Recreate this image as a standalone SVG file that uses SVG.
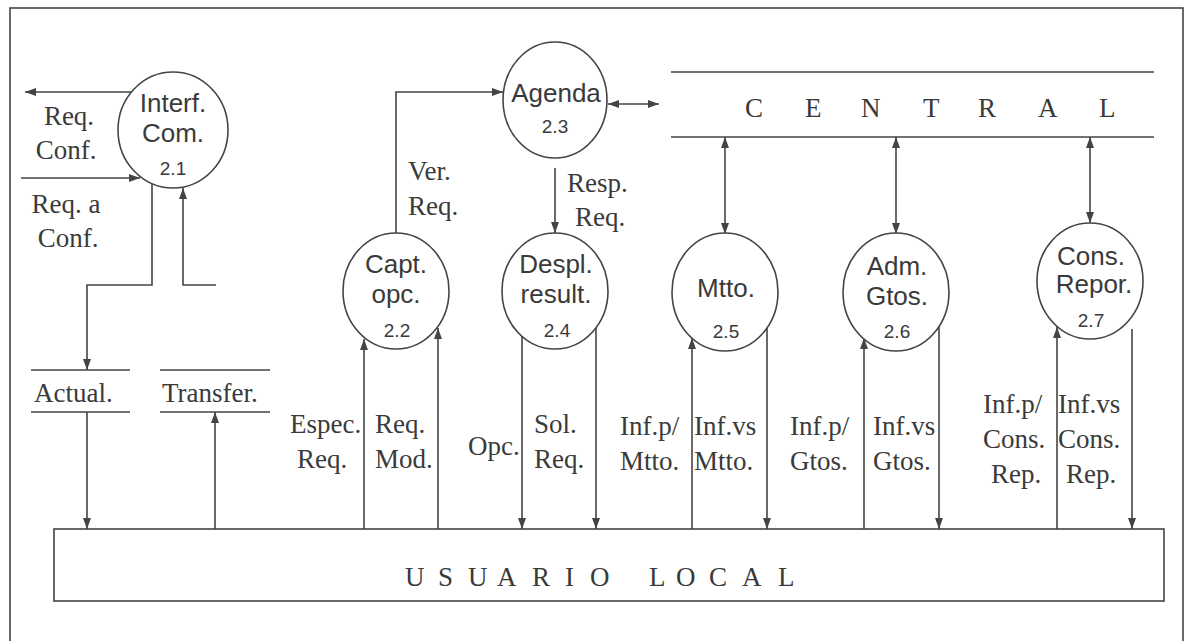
<svg xmlns="http://www.w3.org/2000/svg" width="1187" height="641" viewBox="0 0 1187 641">
<style>
.ln{stroke:#444;stroke-width:1.6;fill:none}
.ar{marker-end:url(#ah)}
.bi{marker-start:url(#ah);marker-end:url(#ah)}
.nd{stroke:#444;stroke-width:1.6;fill:#fff}
.nt{font-family:"Liberation Sans",Arial,sans-serif;font-size:26px;fill:#3a3a3a;text-anchor:middle}
.nn{font-family:"Liberation Sans",Arial,sans-serif;font-size:19px;fill:#3a3a3a;text-anchor:middle}
.lb{font-family:"Liberation Serif","Times New Roman",serif;font-size:27px;fill:#3a3a3a}
.mid{text-anchor:middle}
</style>
<defs>
<marker id="ah" viewBox="0 0 11 8" refX="11" refY="4" markerWidth="11" markerHeight="8" orient="auto-start-reverse" markerUnits="userSpaceOnUse">
<path d="M0,0 L11,4 L0,8 z" fill="#444"/>
</marker>
</defs>
<rect x="0" y="0" width="1187" height="641" fill="#fff"/>
<rect id="frame" x="10" y="8" width="1173" height="660" class="ln" stroke-width="2"/>

<g id="connectors">
<path class="ln ar" d="M131,92 H25"/>
<path class="ln ar" d="M21,178 H140"/>
<path class="ln ar" d="M152,184 V285 H87 V370"/>
<path class="ln ar" d="M216,285 H183 V188"/>
<path class="ln ar" d="M87,412 V529"/>
<path class="ln ar" d="M215,529 V412"/>
<path class="ln ar" d="M396,233 V92 H503"/>
<path class="ln bi" d="M608,104 H659"/>
<path class="ln ar" d="M555,168 V233"/>
<path class="ln ar" d="M364,529 V339"/>
<path class="ln ar" d="M438,529 V328"/>
<path class="ln ar" d="M522,336 V529"/>
<path class="ln ar" d="M596,328 V529"/>
<path class="ln ar" d="M692,529 V338"/>
<path class="ln ar" d="M767,327 V529"/>
<path class="ln bi" d="M725,137 V234"/>
<path class="ln ar" d="M864,529 V338"/>
<path class="ln ar" d="M939,327 V529"/>
<path class="ln bi" d="M896,137 V234"/>
<path class="ln ar" d="M1057,529 V327"/>
<path class="ln ar" d="M1132,329 V529"/>
<path class="ln bi" d="M1090,137 V223"/>
</g>

<g id="labels">
<text class="lb mid" x="69" y="125">Req.</text>
<text class="lb mid" x="66" y="159">Conf.</text>
<text class="lb mid" x="66" y="213">Req. a</text>
<text class="lb mid" x="68" y="247">Conf.</text>
<text class="lb" x="408" y="180">Ver.</text>
<text class="lb" x="408" y="215">Req.</text>
<text class="lb" x="567" y="192">Resp.</text>
<text class="lb" x="575" y="226">Req.</text>
<text class="lb" x="290" y="433">Espec.</text>
<text class="lb" x="297" y="468">Req.</text>
<text class="lb" x="375" y="433">Req.</text>
<text class="lb" x="375" y="468">Mod.</text>
<text class="lb" x="468" y="455">Opc.</text>
<text class="lb" x="534" y="433">Sol.</text>
<text class="lb" x="534" y="468">Req.</text>
<text class="lb" x="620" y="435">Inf.p/</text>
<text class="lb" x="620" y="470">Mtto.</text>
<text class="lb" x="694" y="435">Inf.vs</text>
<text class="lb" x="694" y="470">Mtto.</text>
<text class="lb" x="790" y="435">Inf.p/</text>
<text class="lb" x="790" y="470">Gtos.</text>
<text class="lb" x="873" y="435">Inf.vs</text>
<text class="lb" x="873" y="470">Gtos.</text>
<text class="lb" x="983" y="413">Inf.p/</text>
<text class="lb" x="983" y="448">Cons.</text>
<text class="lb" x="991" y="483">Rep.</text>
<text class="lb" x="1058" y="413">Inf.vs</text>
<text class="lb" x="1058" y="448">Cons.</text>
<text class="lb" x="1066" y="483">Rep.</text>
</g>

<g id="central">
<line class="ln" x1="671" y1="72" x2="1154" y2="72"/>
<line class="ln" x1="671" y1="137" x2="1154" y2="137"/>
<text class="lb" x="745 805 861 923 978 1038 1099" y="117">CENTRAL</text>
</g>

<g id="actual">
<line class="ln" x1="31" y1="370" x2="130" y2="370"/>
<line class="ln" x1="31" y1="412" x2="130" y2="412"/>
<text class="lb" x="34" y="402">Actual.</text>
</g>

<g id="transfer">
<line class="ln" x1="160" y1="370" x2="270" y2="370"/>
<line class="ln" x1="160" y1="412" x2="270" y2="412"/>
<text class="lb" x="162" y="402">Transfer.</text>
</g>

<g id="usuario">
<rect class="ln" x="54" y="529" width="1110" height="72"/>
<text class="lb" x="405 438 468 497 532 565 590 620 649 676 709 742 778" y="586">USUARIO LOCAL</text>
</g>

<g id="n21">
<ellipse class="nd" cx="173" cy="130" rx="55" ry="58"/>
<text class="nt" x="173" y="112">Interf.</text>
<text class="nt" x="173" y="142">Com.</text>
<text class="nn" x="173" y="175">2.1</text>
</g>
<g id="n22">
<ellipse class="nd" cx="396" cy="291" rx="53" ry="58"/>
<text class="nt" x="396" y="273">Capt.</text>
<text class="nt" x="396" y="303">opc.</text>
<text class="nn" x="397" y="337">2.2</text>
</g>
<g id="n23">
<ellipse class="nd" cx="555" cy="100" rx="52" ry="58"/>
<text class="nt" x="556" y="102">Agenda</text>
<text class="nn" x="555" y="133">2.3</text>
</g>
<g id="n24">
<ellipse class="nd" cx="555" cy="291" rx="53" ry="58"/>
<text class="nt" x="556" y="273">Despl.</text>
<text class="nt" x="556" y="303">result.</text>
<text class="nn" x="557" y="337">2.4</text>
</g>
<g id="n25">
<ellipse class="nd" cx="725" cy="292" rx="53" ry="59"/>
<text class="nt" x="726" y="297">Mtto.</text>
<text class="nn" x="726" y="338">2.5</text>
</g>
<g id="n26">
<ellipse class="nd" cx="896" cy="292" rx="53" ry="59"/>
<text class="nt" x="897" y="275">Adm.</text>
<text class="nt" x="897" y="305">Gtos.</text>
<text class="nn" x="897" y="338">2.6</text>
</g>
<g id="n27">
<ellipse class="nd" cx="1090" cy="281" rx="53" ry="58"/>
<text class="nt" x="1091" y="265">Cons.</text>
<text class="nt" x="1094" y="293">Repor.</text>
<text class="nn" x="1091" y="327">2.7</text>
</g>
</svg>
